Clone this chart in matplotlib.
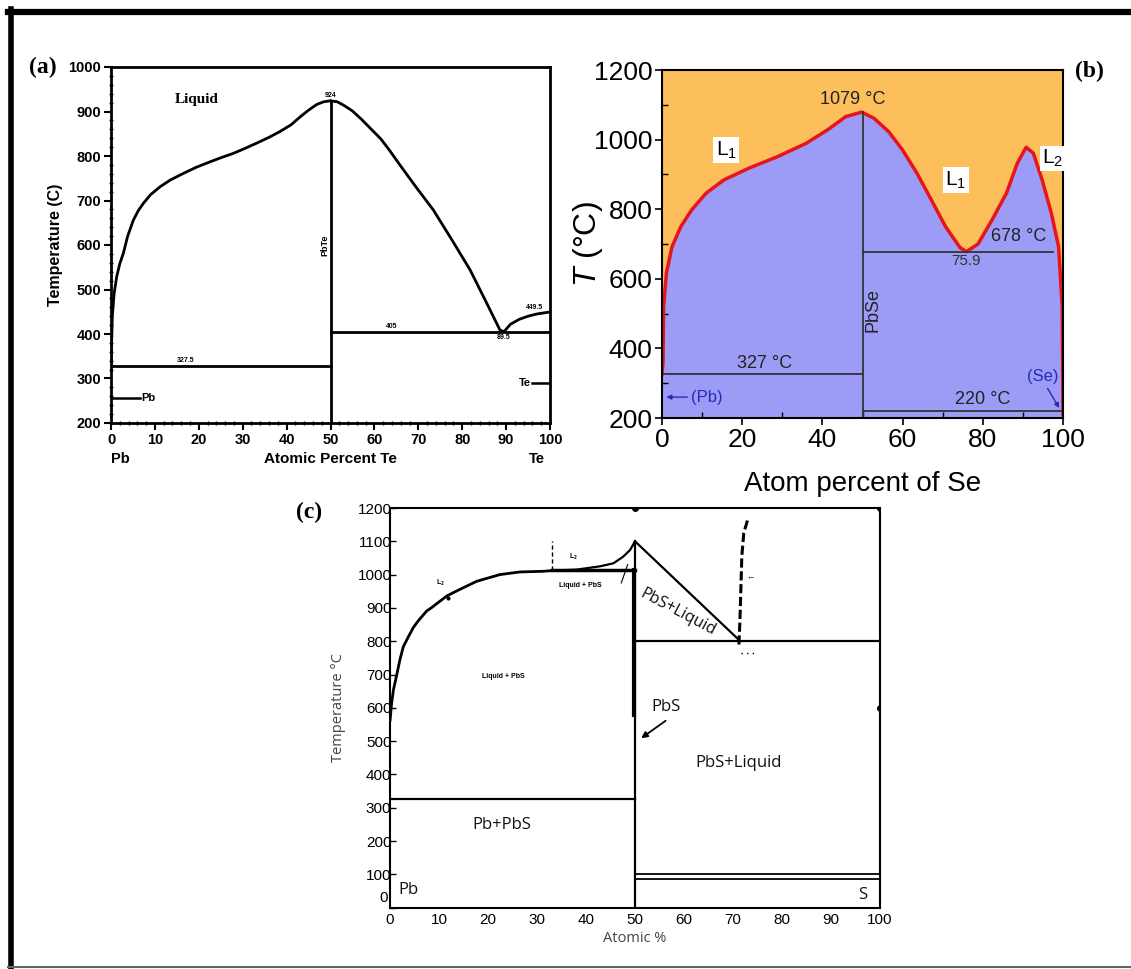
import numpy as np
import matplotlib
matplotlib.use('Agg')
import matplotlib.pyplot as plt
from matplotlib.lines import Line2D
from matplotlib.ticker import MultipleLocator, FuncFormatter
import matplotlib.transforms as mtransforms

plt.rcParams['font.family'] = ['Liberation Sans', 'DejaVu Sans']
plt.rcParams['mathtext.fontset'] = 'custom'
plt.rcParams['mathtext.rm'] = 'Liberation Sans'
plt.rcParams['mathtext.it'] = 'Liberation Sans:italic'

W, H = 1131, 969

# ---- (a) Pb-Te ----
a_left_x = [0, 0.3, 0.7, 1.3, 2.0, 2.8, 3.8, 5.1, 6.2, 7.4, 9.0, 11.2, 13.5, 16.5,
            19.5, 22.6, 25, 27.9, 30.5, 33.2, 36, 38.5, 41, 43.1, 45, 46.9, 48.5, 50]
a_left_T = [327, 440, 490, 529, 558, 581, 620, 656, 677, 694, 713, 731, 746, 761,
            775, 787, 796, 806, 817, 829, 842, 855, 870, 888, 903, 916, 922, 924]
a_right_x = [50, 51.5, 53, 54.9, 57, 59, 61.5, 63.5, 65.8, 69.5, 73.4, 77.5, 81.8,
             85.6, 88.6, 89.5]
a_right_T = [924, 922, 914, 902, 883, 863, 838, 812, 780, 730, 679, 614, 544,
             469, 409, 405]
a_te_x = [89.5, 91, 93, 95, 97, 100]
a_te_T = [405, 422, 433, 440, 445, 449.5]
a_pb_melt = 327.5
a_pbte_melt = 924
a_eutectic = 405
a_te_melt = 449.5

# ---- (b) Pb-Se ----
b_x = [0, 0.25, 0.4, 1.1, 2.5, 4.7, 7.4, 11, 15.4, 21.7, 28.8, 35.9, 41.3, 45.8,
       49.8, 52.9, 56.5, 60.0, 63.6, 67.2, 70.7, 74.3, 75.9, 78.8, 82.3, 85.9,
       88.6, 90.8, 92.6, 94.8, 97.1, 98.9, 99.8, 100]
b_T = [327, 360, 520, 617, 692, 750, 798, 846, 884, 918, 951, 989, 1028, 1066,
       1079, 1061, 1023, 970, 903, 826, 750, 690, 678, 700, 769, 846,
       932, 978, 961, 884, 788, 692, 520, 212]
b_pbse_melt = 1079
b_monotectic = 678
b_mono_x = 75.9
b_pb_eut = 327
b_se_eut = 220

# ---- (c) Pb-S ----
c_liq_x = [0, 0.3, 0.7, 1.3, 2.0, 2.7, 3.7, 4.8, 5.8, 7.5, 8.5, 11.6, 14.3, 17.7,
           22.4, 26.5, 31.3, 33]
c_liq_T = [560, 610, 654, 694, 743, 783, 812, 842, 862, 891, 901, 936, 956, 980,
           1000, 1008, 1010, 1012]
c_up_x = [33, 38.1, 42.9, 45.6, 47.6, 49, 50]
c_up_T = [1012, 1015, 1025, 1034, 1054, 1074, 1100]
c_dash_x = [71.2, 71.4, 71.6, 71.8, 72.2, 73.0]
c_dash_T = [790, 855, 955, 1055, 1125, 1165]
c_pbs_melt = 1100
c_mono = 1013
c_s_side = 800
c_pb_eut = 327
c_low1, c_low2 = 100, 87


def box(l, t, r, b):
    return [l / W, 1 - b / H, (r - l) / W, (b - t) / H]


fig = plt.figure(figsize=(W / 100, H / 100), dpi=100)

# outer frame
fig.add_artist(Line2D([10.5 / W, 10.5 / W], [1 - 9 / H, 0], color='black', lw=4))
fig.add_artist(Line2D([8 / W, 1], [1 - 12 / H, 1 - 12 / H], color='black', lw=4.5))
fig.add_artist(Line2D([8 / W, 1], [1 - 966.5 / H, 1 - 966.5 / H], color='#666666', lw=1.5))

# ================= (a) =================
ax = fig.add_axes(box(111, 67, 550, 423))
ax.set_xlim(0, 100)
ax.set_ylim(200, 1000)
for s in ax.spines.values():
    s.set_linewidth(2)
ax.xaxis.set_major_locator(MultipleLocator(10))
ax.xaxis.set_minor_locator(MultipleLocator(2))
ax.yaxis.set_major_locator(MultipleLocator(100))
ax.yaxis.set_minor_locator(MultipleLocator(20))
ax.tick_params(which='major', direction='out', length=5, width=1.5, labelsize=10.5, pad=2)
ax.tick_params(which='minor', direction='inout', length=3, width=1)
for lbl in ax.get_xticklabels() + ax.get_yticklabels():
    lbl.set_fontweight('bold')

lk = dict(color='black', lw=2, solid_joinstyle='round', solid_capstyle='round')
ax.plot(a_left_x, a_left_T, **lk)
ax.plot(a_right_x, a_right_T, **lk)
ax.plot(a_te_x, a_te_T, **lk)
ax.plot([0, 50], [a_pb_melt, a_pb_melt], color='black', lw=2)
ax.plot([50, 100], [a_eutectic, a_eutectic], color='black', lw=2)
ax.plot([50, 50], [200, a_pbte_melt], color='black', lw=2)
ax.plot([0, 6.5], [257, 257], color='black', lw=1.8)
ax.plot([96, 100], [289, 289], color='black', lw=1.8)
ax.text(6.8, 257, 'Pb', fontsize=8, fontweight='bold', va='center')
ax.text(95.6, 289, 'Te', fontsize=8, fontweight='bold', va='center', ha='right')
ax.text(19.5, 918, 'Liquid', fontsize=11, fontweight='bold', ha='center',
        family='Liberation Serif')
ax.text(48.8, 600, 'PbTe', fontsize=6.5, fontweight='bold', rotation=90,
        ha='center', va='center')
ax.text(17, 332, '327.5', fontsize=5, fontweight='bold', ha='center', va='bottom')
ax.text(50, 928, '924', fontsize=5, fontweight='bold', ha='center', va='bottom')
ax.text(64, 409, '405', fontsize=5, fontweight='bold', ha='center', va='bottom')
ax.text(96.5, 452, '449.5', fontsize=5, fontweight='bold', ha='center', va='bottom')
ax.text(89.5, 400, '89.5', fontsize=5, fontweight='bold', ha='center', va='top')
ax.set_ylabel('Temperature (C)', fontsize=11.5, fontweight='bold', labelpad=4)
tr = mtransforms.blended_transform_factory(ax.transData, ax.transAxes)
ax.text(0, -0.1, 'Pb', transform=tr, fontsize=10.5, fontweight='bold', ha='left', va='center')
ax.text(97, -0.1, 'Te', transform=tr, fontsize=10.5, fontweight='bold', ha='center', va='center')
ax.text(50, -0.1, 'Atomic Percent Te', transform=tr, fontsize=11, fontweight='bold',
        ha='center', va='center')
fig.text(43 / W, 1 - 67 / H, '(a)', fontsize=17, fontweight='bold',
         family='Liberation Serif', ha='center', va='center')

# ================= (b) =================
bx = fig.add_axes(box(662, 70, 1063, 418))
bx.set_xlim(0, 100)
bx.set_ylim(200, 1200)
bx.set_facecolor('#FDBE5C')
bx.fill_between(b_x, 200, b_T, color='#9C9CF7', lw=0)
bx.plot(b_x, b_T, color='#E8141C', lw=2.5, solid_joinstyle='round')
line_c = '#333333'
bx.plot([50, 50], [200, b_pbse_melt], color=line_c, lw=1.3)
bx.plot([0, 50], [b_pb_eut, b_pb_eut], color=line_c, lw=1.3)
bx.plot([50, 97.6], [b_monotectic, b_monotectic], color=line_c, lw=1.3)
bx.plot([50, 100], [b_se_eut, b_se_eut], color=line_c, lw=1.3)
for s in bx.spines.values():
    s.set_linewidth(1.5)
bx.xaxis.set_major_locator(MultipleLocator(20))
bx.xaxis.set_minor_locator(MultipleLocator(10))
bx.yaxis.set_major_locator(MultipleLocator(200))
bx.yaxis.set_minor_locator(MultipleLocator(100))
bx.tick_params(which='major', direction='out', length=5, width=1.2, labelsize=19, pad=2)
bx.tick_params(which='minor', direction='in', length=4, width=1)

lkw = dict(fontsize=15, ha='center', va='center',
           bbox=dict(facecolor='white', edgecolor='none', pad=1.5))
bx.text(16, 970, '$\\mathregular{L_1}$', **lkw)
bx.text(73.3, 884, '$\\mathregular{L_1}$', **lkw)
bx.text(97.3, 946, '$\\mathregular{L_2}$', **lkw)
bx.text(47.5, 1114, '1079 °C', fontsize=13, ha='center', va='center', color='#222222')
bx.text(89, 721, '678 °C', fontsize=13, ha='center', va='center', color='#222222')
bx.text(b_mono_x, 652, '75.9', fontsize=11, ha='center', va='center', color='#333333')
bx.text(25.6, 357, '327 °C', fontsize=13, ha='center', va='center', color='#222222')
bx.text(80, 252, '220 °C', fontsize=13, ha='center', va='center', color='#222222')
bx.text(52.5, 510, 'PbSe', fontsize=13, rotation=90, ha='center', va='center',
        color='#222222')
bx.text(7.2, 260, '(Pb)', fontsize=12, ha='left', va='center', color='#2A2AB8')
bx.annotate('', xy=(0.4, 260), xytext=(7, 260),
            arrowprops=dict(arrowstyle='-|>', color='#2A2AB8', lw=1, mutation_scale=7))
bx.text(95, 318, '(Se)', fontsize=12, ha='center', va='center', color='#2A2AB8')
bx.annotate('', xy=(99.4, 222), xytext=(95.8, 292),
            arrowprops=dict(arrowstyle='-|>', color='#2A2AB8', lw=1, mutation_scale=7))
bx.set_ylabel('$T$ (°C)', fontsize=23, labelpad=-8)
bx.set_xlabel('Atom percent of Se', fontsize=20, labelpad=14)
fig.text(1089 / W, 1 - 71 / H, '(b)', fontsize=17, fontweight='bold',
         family='Liberation Serif', ha='center', va='center')

# ================= (c) =================
cx = fig.add_axes(box(390, 508, 880, 907.7))
cx.set_xlim(0, 100)
cx.set_ylim(0, 1200)
for s in cx.spines.values():
    s.set_linewidth(1.5)
cx.xaxis.set_major_locator(MultipleLocator(10))
cx.yaxis.set_major_locator(MultipleLocator(100))
# the y "0" sits just above the x "0", written separately below
cx.yaxis.set_major_formatter(FuncFormatter(lambda v, p: '' if v == 0 else '%d' % v))
cx.tick_params(axis='y', direction='in', length=4, width=1, labelsize=11, pad=-1)
cx.tick_params(axis='x', direction='in', length=0, labelsize=11, pad=4)
cx.text(-0.4, 8, '0', fontsize=11, ha='right', va='bottom')
ck = dict(color='black', solid_joinstyle='round', solid_capstyle='round')
cx.plot(c_liq_x, c_liq_T, lw=2, **ck)
cx.plot(c_up_x, c_up_T, lw=1.6, **ck)
cx.plot([33, 50], [c_mono, c_mono], color='black', lw=2.5)
cx.plot([33, 33], [c_mono, 1100], color='black', lw=1, ls=(0, (3, 2)))
cx.plot([50, 50], [0, c_pbs_melt], color='black', lw=1.6)
cx.plot([49.7, 49.7], [580, c_mono], color='black', lw=3)
cx.plot([50, 71.5], [c_pbs_melt, c_s_side], color='black', lw=1.6)
cx.plot([50, 100], [c_s_side, c_s_side], color='black', lw=1.6)
cx.plot([0, 50], [c_pb_eut, c_pb_eut], color='black', lw=1.6)
cx.plot([50, 100], [c_low1, c_low1], color='black', lw=1.3)
cx.plot([50, 100], [c_low2, c_low2], color='black', lw=1.3)
cx.plot(c_dash_x, c_dash_T, color='black', lw=2.2, ls=(0, (3, 1.2)))
cx.plot([71.6, 74.4], [766, 766], color='black', lw=1, ls=(0, (1, 3)))
cx.plot([50, 100, 100], [1200, 1200, 600], 'o', color='black', ms=4)
cx.plot([11.8], [930], 'o', color='black', ms=2)
cx.plot([47.2, 48.5], [975, 1030], color='black', lw=0.8)

okw = dict(family='Open Sans', color='#111111', ha='center', va='center')
cx.text(58.7, 885, 'PbS+Liquid', fontsize=11.5, rotation=-28, **okw)
cx.text(56.3, 604, 'PbS', fontsize=12, **okw)
cx.annotate('', xy=(50.8, 504), xytext=(56.7, 566),
            arrowprops=dict(arrowstyle='-|>', color='black', lw=1.3, mutation_scale=9))
cx.text(71.2, 434, 'PbS+Liquid', fontsize=12, **okw)
cx.text(22.8, 248, 'Pb+PbS', fontsize=12, **okw)
cx.text(3.8, 53, 'Pb', fontsize=12, **okw)
cx.text(96.4, 38, 'S', fontsize=12, **okw)
tkw = dict(fontsize=5, fontweight='bold', ha='center', va='center')
cx.text(23.1, 694, 'Liquid + PbS', **tkw)
cx.text(38.8, 967, 'Liquid + PbS', **tkw)
cx.text(10.2, 975, '$\\mathregular{L_2}$', **tkw)
cx.text(37.4, 1052, '$\\mathregular{L_2}$', **tkw)
cx.text(73.6, 990, '\u2190', fontsize=6, fontweight='bold', ha='center', va='center')
cx.set_ylabel('Temperature °C', fontsize=10.5, family='Open Sans', color='#444444',
              labelpad=8)
cx.set_xlabel('Atomic %', fontsize=10.5, family='Open Sans', color='#444444', labelpad=3)
fig.text(309 / W, 1 - 512 / H, '(c)', fontsize=17, fontweight='bold',
         family='Liberation Serif', ha='center', va='center')

fig.savefig('out.png', dpi=100)
